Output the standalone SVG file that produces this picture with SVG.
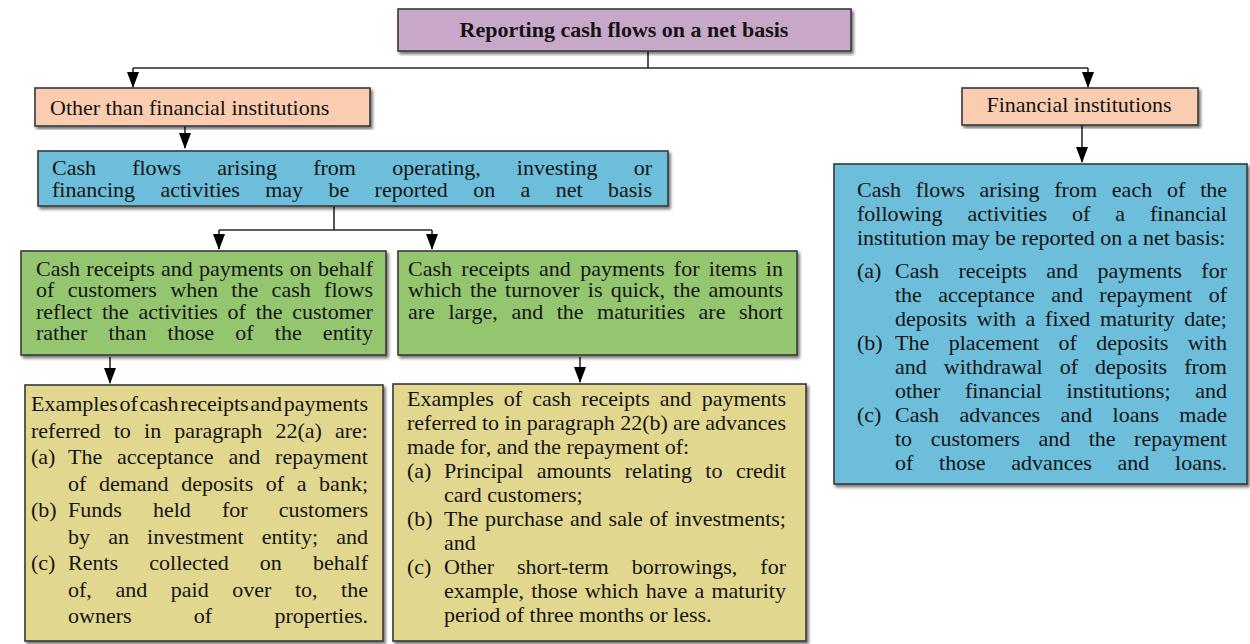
<svg xmlns="http://www.w3.org/2000/svg" width="1250" height="644" viewBox="0 0 1250 644">
<style>
.t { font-family: "Liberation Serif", "Times New Roman", serif; font-size: 22px; fill: #141414; font-kerning: none; }
.b { font-weight: bold; }
.box { stroke: #3a3a3a; stroke-width: 1.6; filter: url(#sh); }
.pur { fill: #c8a8c8; }
.pch { fill: #fbcdb0; }
.blu { fill: #6cbedb; }
.grn { fill: #94c66f; }
.yel { fill: #e2d78f; }
.conn { stroke: #2a2a2a; stroke-width: 1.6; fill: none; }
.ah { fill: #000; }
</style>
<defs>
<filter id="sh" x="-5%" y="-5%" width="110%" height="115%">
<feDropShadow dx="2" dy="2.5" stdDeviation="1.5" flood-color="#000" flood-opacity="0.55"/>
</filter>
</defs>

<g id="connectors">
<path class="conn" d="M648,51 V68"/>
<path class="conn" d="M133,68 H1088" stroke="#4a4a4a" stroke-width="2"/>
<line class="conn" x1="133" y1="68" x2="133" y2="87"/>
<path class="ah" d="M127,72 L139,72 L133,88 z"/>
<line class="conn" x1="1088" y1="68" x2="1088" y2="87"/>
<path class="ah" d="M1082,72 L1094,72 L1088,88 z"/>
<line class="conn" x1="185" y1="126" x2="185" y2="148"/>
<path class="ah" d="M179,133 L191,133 L185,149 z"/>
<line class="conn" x1="1082" y1="125" x2="1082" y2="162"/>
<path class="ah" d="M1076,147 L1088,147 L1082,163 z"/>
<path class="conn" d="M334,206 V230"/>
<path class="conn" d="M219,230 H432"/>
<line class="conn" x1="219" y1="230" x2="219" y2="249"/>
<path class="ah" d="M213,234 L225,234 L219,250 z"/>
<line class="conn" x1="432" y1="230" x2="432" y2="249"/>
<path class="ah" d="M426,234 L438,234 L432,250 z"/>
<line class="conn" x1="110" y1="357" x2="110" y2="383"/>
<path class="ah" d="M104,368 L116,368 L110,384 z"/>
<line class="conn" x1="580" y1="357" x2="580" y2="382"/>
<path class="ah" d="M574,367 L586,367 L580,383 z"/>
</g>

<g id="title">
<rect class="box pur" x="398" y="9" width="453" height="42"/>
<text class="t b" x="624" y="37" text-anchor="middle">Reporting cash flows on a net basis</text>
</g>

<g id="other">
<rect class="box pch" x="35" y="88" width="335" height="38"/>
<text class="t" x="50" y="115" font-size="22.6">Other than financial institutions</text>
</g>

<g id="financial">
<rect class="box pch" x="962" y="88" width="236" height="37"/>
<text class="t" x="1079" y="112" text-anchor="middle">Financial institutions</text>
</g>

<g id="net-basis">
<rect class="box blu" x="38" y="151" width="630" height="55"/>
<text class="t" x="52" y="175" word-spacing="30.65">Cash flows arising from operating, investing or</text>
<text class="t" x="52" y="197" word-spacing="19.86">financing activities may be reported on a net basis</text>
</g>

<g id="behalf">
<rect class="box grn" x="21" y="251" width="365" height="104"/>
<text class="t" x="36" y="275.5" word-spacing="0.8">Cash receipts and payments on behalf</text>
<text class="t" x="36" y="297" word-spacing="7.89">of customers when the cash flows</text>
<text class="t" x="36" y="318.5" word-spacing="4.22">reflect the activities of the customer</text>
<text class="t" x="36" y="340" word-spacing="15.71">rather than those of the entity</text>
</g>

<g id="quick">
<rect class="box grn" x="398" y="251" width="399" height="104"/>
<text class="t" x="408" y="275.5" word-spacing="3.84">Cash receipts and payments for items in</text>
<text class="t" x="408" y="297" word-spacing="2.72">which the turnover is quick, the amounts</text>
<text class="t" x="408" y="318.5" word-spacing="8.03">are large, and the maturities are short</text>
</g>

<g id="examples-a">
<rect class="box yel" x="25" y="385" width="358" height="256"/>
<text class="t" x="31" y="411" word-spacing="-3.84">Examples of cash receipts and payments</text>
<text class="t" x="31" y="437.5" word-spacing="7.66">referred to in paragraph 22(a) are:</text>
<text class="t" x="31" y="464">(a)</text>
<text class="t" x="68" y="464" word-spacing="9.39">The acceptance and repayment</text>
<text class="t" x="68" y="490.5" word-spacing="7.09">of demand deposits of a bank;</text>
<text class="t" x="31" y="517">(b)</text>
<text class="t" x="68" y="517" word-spacing="25.65">Funds held for customers</text>
<text class="t" x="68" y="543.5" word-spacing="12.67">by an investment entity; and</text>
<text class="t" x="31" y="570">(c)</text>
<text class="t" x="68" y="570" word-spacing="25.66">Rents collected on behalf</text>
<text class="t" x="68" y="596.5" word-spacing="18.09">of, and paid over to, the</text>
<text class="t" x="68" y="623" word-spacing="56.83">owners of properties.</text>
</g>

<g id="examples-b">
<rect class="box yel" x="393" y="384" width="413" height="257"/>
<text class="t" x="407" y="406" word-spacing="4.56">Examples of cash receipts and payments</text>
<text class="t" x="407" y="430" word-spacing="-0.16">referred to in paragraph 22(b) are advances</text>
<text class="t" x="407" y="454">made for, and the repayment of:</text>
<text class="t" x="407" y="478">(a)</text>
<text class="t" x="444" y="478" word-spacing="7.9">Principal amounts relating to credit</text>
<text class="t" x="444" y="502">card customers;</text>
<text class="t" x="407" y="526">(b)</text>
<text class="t" x="444" y="526" word-spacing="1.31">The purchase and sale of investments;</text>
<text class="t" x="444" y="550">and</text>
<text class="t" x="407" y="574">(c)</text>
<text class="t" x="444" y="574" word-spacing="17.46">Other short-term borrowings, for</text>
<text class="t" x="444" y="598" word-spacing="1.68">example, those which have a maturity</text>
<text class="t" x="444" y="622">period of three months or less.</text>
</g>

<g id="fi-activities">
<rect class="box blu" x="834" y="164" width="413" height="320"/>
<text class="t" x="857" y="197" word-spacing="9.33">Cash flows arising from each of the</text>
<text class="t" x="857" y="221" word-spacing="19.48">following activities of a financial</text>
<text class="t" x="857" y="245">institution may be reported on a net basis:</text>
<text class="t" x="857" y="278">(a)</text>
<text class="t" x="895" y="278" word-spacing="13.96">Cash receipts and payments for</text>
<text class="t" x="895" y="302" word-spacing="10.92">the acceptance and repayment of</text>
<text class="t" x="895" y="326" word-spacing="4.19">deposits with a fixed maturity date;</text>
<text class="t" x="857" y="350">(b)</text>
<text class="t" x="895" y="350" word-spacing="13.95">The placement of deposits with</text>
<text class="t" x="895" y="374" word-spacing="11.5">and withdrawal of deposits from</text>
<text class="t" x="895" y="398" word-spacing="19.21">other financial institutions; and</text>
<text class="t" x="857" y="422">(c)</text>
<text class="t" x="895" y="422" word-spacing="14.88">Cash advances and loans made</text>
<text class="t" x="895" y="446" word-spacing="13.04">to customers and the repayment</text>
<text class="t" x="895" y="470" word-spacing="20.22">of those advances and loans.</text>
</g>
</svg>
